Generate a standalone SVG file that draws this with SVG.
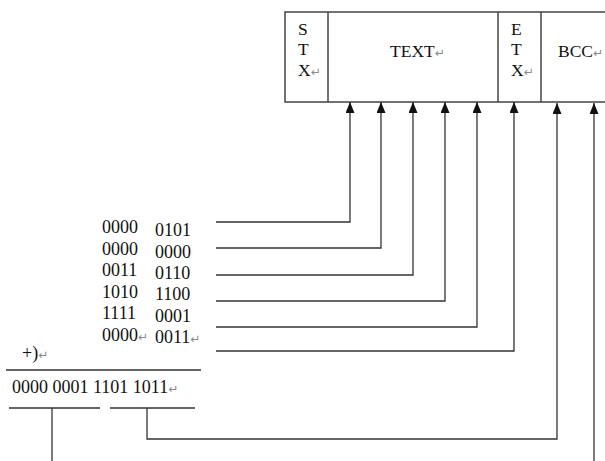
<svg xmlns="http://www.w3.org/2000/svg" width="605" height="461" viewBox="0 0 605 461">
<style>
text{font-family:"Liberation Serif","Times New Roman",serif;font-size:17.5px;fill:#111}
.d{font-size:18px}
.r{font-family:"DejaVu Sans",sans-serif;font-size:12px;fill:#888}
.b{fill:none;stroke:#444;stroke-width:1.5}
.c{fill:none;stroke:#333;stroke-width:1.3}
</style>
<defs>
<marker id="ah" markerUnits="userSpaceOnUse" markerWidth="11" markerHeight="10" refX="11" refY="4.5" orient="auto">
<path d="M0,0 L11,4.5 L0,9 z" fill="#111"/>
</marker>
</defs>
<rect width="605" height="461" fill="#fff"/>
<g id="frame">
<path class="b" d="M606,12 H285 V102 H606"/>
</g>
<g id="stx">
<path class="b" d="M328,12 V102"/>
<text x="298" y="35">S</text>
<text x="298" y="55">T</text>
<text x="298" y="76">X<tspan class="r">↵</tspan></text>
</g>
<g id="text">
<path class="b" d="M498,12 V102"/>
<text x="390" y="57">TEXT<tspan class="r">↵</tspan></text>
</g>
<g id="etx">
<path class="b" d="M541,12 V102"/>
<text x="511" y="35">E</text>
<text x="511" y="55">T</text>
<text x="511" y="76">X<tspan class="r">↵</tspan></text>
</g>
<g id="bcc">
<text x="558" y="57">BCC<tspan class="r">↵</tspan></text>
</g>
<g id="data" class="d">
<text class="d" x="102" y="233">0000</text><text class="d" x="155" y="236">0101</text>
<text class="d" x="102" y="255">0000</text><text class="d" x="155" y="258">0000</text>
<text class="d" x="102" y="276">0011</text><text class="d" x="155" y="279">0110</text>
<text class="d" x="102" y="298">1010</text><text class="d" x="155" y="300">1100</text>
<text class="d" x="102" y="319">1111</text><text class="d" x="155" y="322">0001</text>
<text class="d" x="102" y="341">0000<tspan class="r">↵</tspan></text><text class="d" x="155" y="343">0011<tspan class="r">↵</tspan></text>
</g>
<g id="sum">
<text class="d" x="22" y="359">+)<tspan class="r">↵</tspan></text>
<path class="c" d="M6,370 H201"/>
<text class="d" x="12" y="393">0000 0001 1101 1011<tspan class="r">↵</tspan></text>
<path class="c" d="M9,408 H100 M110,408 H195"/>
</g>
<g id="connectors">
<path class="c" marker-end="url(#ah)" d="M216,222 H350 V102"/>
<path class="c" marker-end="url(#ah)" d="M216,248 H381 V102"/>
<path class="c" marker-end="url(#ah)" d="M216,275 H413 V102"/>
<path class="c" marker-end="url(#ah)" d="M216,301 H445 V102"/>
<path class="c" marker-end="url(#ah)" d="M216,327 H477 V102"/>
<path class="c" marker-end="url(#ah)" d="M216,351 H514 V102"/>
<path class="c" marker-end="url(#ah)" d="M147,408 V439 H557 V103"/>
<path class="c" marker-end="url(#ah)" d="M594,461 V103"/>
<path class="c" d="M52,408 V461"/>
</g>
</svg>
